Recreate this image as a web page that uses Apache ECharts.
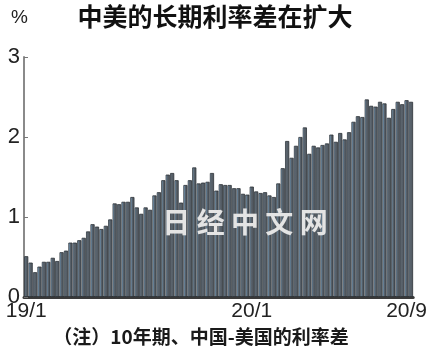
<!DOCTYPE html>
<html>
<head>
<meta charset="utf-8">
<script src="https://cdn.jsdelivr.net/npm/echarts@6/dist/echarts.min.js"></script>
<style>
html,body{margin:0;padding:0;background:#fff;}
#c{width:430px;height:364px;}
</style>
</head>
<body>
<div id="c"></div>
<script>
// Weekly spread, China 10y minus US 10y (%), 2019/1 .. 2020/9
const spread = [
  0.51,0.43,0.31,0.38,0.44,0.44,0.49,0.45,0.56,0.58,0.68,0.68,0.71,0.74,0.82,0.91,0.88,0.85,0.89,0.97,
  1.17,1.16,1.19,1.19,1.25,1.12,1.04,1.12,1.09,
  1.27,1.31,1.46,1.53,1.55,1.46,1.18,1.40,1.46,1.62,1.42,1.43,1.44,1.55,1.33,1.41,1.40,1.40,1.36,1.36,
  1.29,1.28,1.38,1.32,1.30,1.31,1.27,1.25,1.42,1.61,1.95,
  1.74,1.89,2.00,2.12,1.79,1.89,1.87,1.90,1.92,2.03,1.94,2.05,1.97,2.06,2.19,2.26,2.25,2.47,2.39,2.38,
  2.44,2.42,2.24,2.35,2.44,2.41,2.46,2.44
];
const tickLabels = ['19/1', '20/1', '20/9'];
const tickIndex = [0, 51, 86];
const yTicks = [0, 1, 2, 3];
const titleText = '中美的长期利率差在扩大';
const noteText = '（注）10年期、中国-美国的利率差';
const unitText = '%';
const watermark = '日 经 中 文 网';

// week categories (labels only)
const categories = spread.map((_, i) => 'W' + i);

const chart = echarts.init(document.getElementById('c'), null, {renderer: 'canvas'});
const numFont = '"Liberation Sans Narrow", "Liberation Sans", Arial, sans-serif';
const cjkFont = '"Noto Sans CJK SC", sans-serif';

chart.setOption({
  backgroundColor: '#ffffff',
  animation: false,
  grid: {left: 24, right: 16, top: 57, bottom: 67, containLabel: false},
  xAxis: {
    type: 'category',
    data: categories,
    boundaryGap: true,
    axisLine: {show: true, lineStyle: {color: '#3a3a3a', width: 3}},
    axisTick: {show: false},
    axisLabel: {
      interval: (i) => tickIndex.indexOf(i) >= 0,
      formatter: (v, i) => { const k = tickIndex.indexOf(i); return k >= 0 ? tickLabels[k] : ''; },
      fontFamily: numFont, fontSize: 21, color: '#222', margin: 4
    },
    splitLine: {show: false}
  },
  yAxis: {
    type: 'value',
    min: yTicks[0], max: yTicks[yTicks.length - 1], interval: 1,
    axisLine: {show: true, lineStyle: {color: '#8a8a8a', width: 2}},
    axisTick: {show: true, inside: true, length: 4, lineStyle: {color: '#777', width: 1}},
    axisLabel: {fontFamily: numFont, fontSize: 22, color: '#222', margin: 4},
    splitLine: {show: false}
  },
  series: [{
    type: 'bar',
    data: spread,
    barCategoryGap: '6%',
    itemStyle: {
      color: new echarts.graphic.LinearGradient(0, 0, 1, 0, [
        {offset: 0, color: '#8fb4d4'},
        {offset: 0.28, color: '#7393ad'},
        {offset: 0.34, color: '#5a636c'},
        {offset: 1, color: '#4e5760'}
      ]),
      borderColor: '#2c3136',
      borderWidth: 0.8
    }
  }],
  graphic: [
    {type: 'text', left: 'center', top: 4, style: {text: titleText, font: 'bold 25px ' + cjkFont, fill: '#111'}},
    {type: 'text', left: 11, top: 8, style: {text: unitText, font: '19px "Liberation Sans", Arial, sans-serif', fill: '#222'}},
    {type: 'text', x: 201, y: 337, style: {text: noteText, font: 'bold 19px ' + cjkFont, fill: '#1a1a1a', align: 'center', verticalAlign: 'middle'}},
    {type: 'text', x: 245, y: 222, z: 100, style: {
      text: watermark, font: 'bold 28px ' + cjkFont, fill: '#e4e4e4', align: 'center', verticalAlign: 'middle',
      shadowColor: 'rgba(0,0,0,0.6)', shadowBlur: 3, shadowOffsetX: 2, shadowOffsetY: 2
    }}
  ]
});
</script>
</body>
</html>
